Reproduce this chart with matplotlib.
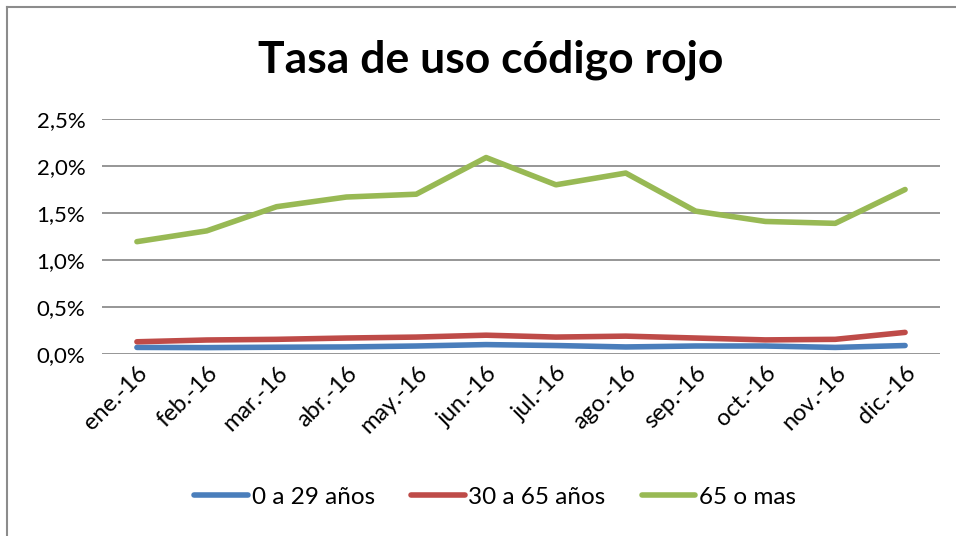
import numpy as np
import matplotlib
matplotlib.use("Agg")
import matplotlib.pyplot as plt
from matplotlib.lines import Line2D
from matplotlib.ticker import FuncFormatter

meses = ['ene.-16', 'feb.-16', 'mar.-16', 'abr.-16', 'may.-16', 'jun.-16',
         'jul.-16', 'ago.-16', 'sep.-16', 'oct.-16', 'nov.-16', 'dic.-16']

# tasas en %
jovenes = [0.070, 0.068, 0.072, 0.075, 0.085, 0.100, 0.090, 0.075, 0.085, 0.085, 0.070, 0.090]
adultos = [0.130, 0.149, 0.156, 0.170, 0.180, 0.200, 0.180, 0.190, 0.170, 0.150, 0.156, 0.230]
mayores = [1.195, 1.310, 1.567, 1.670, 1.700, 2.090, 1.800, 1.925, 1.520, 1.410, 1.390, 1.750]

series = ['0 a 29 años', '30 a 65 años', '65 o mas']
colores = ['#4A7EBB', '#BE4B48', '#98B954']

plt.rcParams['font.family'] = ['Lato', 'DejaVu Sans']

fig = plt.figure(figsize=(9.56, 5.36), dpi=100)
ax = fig.add_axes([102/956, 1-354/536, 838/956, 235/536])

x = np.arange(len(meses))
for datos, nombre, c in zip([jovenes, adultos, mayores], series, colores):
    ax.plot(x, datos, color=c, lw=4, label=nombre, solid_capstyle='round',
            solid_joinstyle='round', zorder=3)

ax.set_xlim(-0.5, len(meses) - 0.5)
ax.set_ylim(0, 2.5)
ax.set_yticks(np.arange(0, 2.51, 0.5))
ax.yaxis.set_major_formatter(FuncFormatter(lambda v, p: f'{v:.1f}%'.replace('.', ',')))
ax.grid(axis='y', color='#969696', lw=1.4)
ax.set_axisbelow(True)
for s in ax.spines.values():
    s.set_visible(False)
ax.tick_params(axis='y', length=0, labelsize=16, pad=12)
ax.tick_params(axis='x', length=0, labelsize=17, pad=6)
ax.set_xticks(x)
ax.set_xticklabels(meses, rotation=45, ha='right', rotation_mode='anchor')

fig.text(0.513, 1-60/536, 'Tasa de uso código rojo', ha='center', va='center',
         fontsize=32, fontweight='bold')

fig.legend(loc='center', bbox_to_anchor=(0.518, 1-497/536), ncol=3, frameon=False,
           fontsize=17.5, handlelength=2.2, handletextpad=0.15, columnspacing=1.5)

# marco del gráfico
fig.add_artist(Line2D([6.5/956, 6.5/956], [0, 1-6.5/536], color='#8c8c8c', lw=1.5))
fig.add_artist(Line2D([6.5/956, 1], [1-6.5/536, 1-6.5/536], color='#8c8c8c', lw=1.5))

fig.savefig('out.png', dpi=100)
